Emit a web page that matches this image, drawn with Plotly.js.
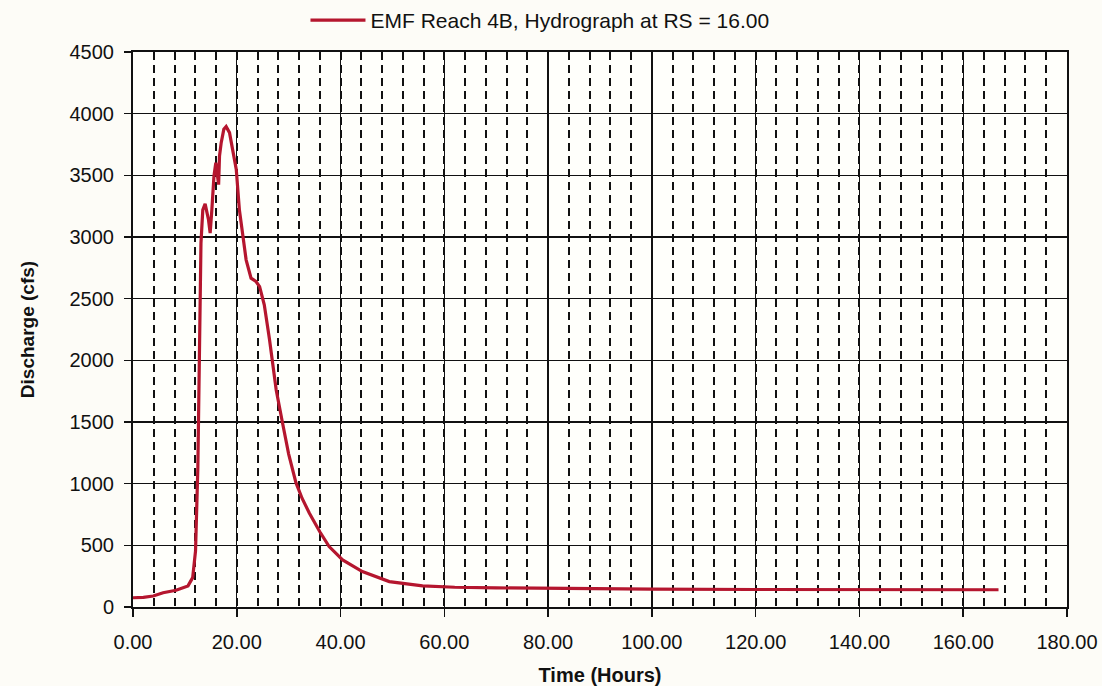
<!DOCTYPE html>
<html>
<head>
<meta charset="utf-8">
<script src="https://cdn.plot.ly/plotly-3.0.1.min.js"></script>
<style>
  html, body { margin: 0; padding: 0; background: #fdfcf7; }
  #chart { width: 1102px; height: 686px; }
</style>
</head>
<body>
<div id="chart"></div>
<script>
// Hydrograph: time in hours and discharge in cfs
const seriesName = 'EMF Reach 4B, Hydrograph at RS = 16.00';
const hours = [0, 2, 3.9, 5.8, 8.3, 10.6, 11.5, 12.05, 12.5, 12.9, 13.1, 13.45, 13.9, 14.55,
  14.87, 15.2, 15.6, 15.96, 16.5, 16.67, 17.0, 17.5, 17.95, 18.6, 19.2, 19.9, 20.5, 21.15,
  21.8, 22.75, 23.7, 24.4, 25.3, 26.3, 27.6, 28.8, 30.0, 31.4, 32.6, 34.0, 36.0, 37.8, 40.4,
  44.2, 49.4, 55.8, 62, 70, 80, 100, 120, 140, 160, 166.8];
const discharge = [75, 78, 89, 116, 136, 171, 238, 455, 1133, 2488, 2950, 3220, 3268, 3140,
  3032, 3222, 3493, 3602, 3425, 3656, 3765, 3873, 3895, 3846, 3710, 3548, 3222, 3005,
  2815, 2666, 2639, 2598, 2450, 2171, 1760, 1496, 1240, 1008, 880, 760, 610, 490, 382,
  287, 206, 171, 160, 155, 150, 145, 142, 140, 140, 140];
const yTicks = [0, 500, 1000, 1500, 2000, 2500, 3000, 3500, 4000, 4500];
const xTicks = [0, 20, 40, 60, 80, 100, 120, 140, 160, 180];
const xTickText = xTicks.map(v => v.toFixed(2));

const font = 'Liberation Sans, Arial, sans-serif';

const trace = {
  x: hours,
  y: discharge,
  type: 'scatter',
  mode: 'lines',
  name: seriesName,
  line: { color: '#b5162e', width: 3.2 },
  showlegend: true
};

const layout = {
  width: 1102,
  height: 686,
  paper_bgcolor: '#fdfcf7',
  plot_bgcolor: '#fffffb',
  margin: { l: 133, r: 35, t: 52, b: 79 },
  font: { family: font, color: '#111', size: 20 },
  showlegend: true,
  legend: {
    orientation: 'h',
    xref: 'container', yref: 'container',
    x: 0.49, xanchor: 'center',
    y: 1.0, yanchor: 'top',
    font: { family: font, size: 21, color: '#111' },
    bgcolor: 'rgba(0,0,0,0)',
    itemwidth: 55
  },
  xaxis: {
    range: [0, 180],
    tickvals: xTicks,
    ticktext: xTickText,
    ticks: 'outside',
    ticklen: 8,
    tickwidth: 1.5,
    tickcolor: '#111',
    ticklabelstandoff: 8,
    showline: true,
    mirror: true,
    linecolor: '#111',
    linewidth: 2,
    showgrid: true,
    gridcolor: '#111',
    gridwidth: 1.4,
    zeroline: false,
    minor: {
      dtick: 4,
      showgrid: true,
      griddash: '8px,5px',
      gridcolor: '#111',
      gridwidth: 2,
      ticks: ''
    },
    tickfont: { family: font, size: 20, color: '#111' },
    title: {
      text: '<b>Time (Hours)</b>',
      font: { family: font, size: 20, color: '#111' },
      standoff: 16
    }
  },
  yaxis: {
    range: [0, 4500],
    tickvals: yTicks,
    ticks: 'outside',
    ticklen: 7,
    tickwidth: 1.5,
    tickcolor: '#111',
    ticklabelstandoff: 6,
    showline: true,
    mirror: true,
    linecolor: '#111',
    linewidth: 2,
    showgrid: true,
    gridcolor: '#111',
    gridwidth: 1.4,
    zeroline: false,
    tickfont: { family: font, size: 20, color: '#111' },
    title: {
      text: '<b>Discharge (cfs)</b>',
      font: { family: font, size: 19, color: '#111' },
      standoff: 30
    }
  }
};

Plotly.newPlot('chart', [trace], layout, { displayModeBar: false, staticPlot: true });
</script>
</body>
</html>
